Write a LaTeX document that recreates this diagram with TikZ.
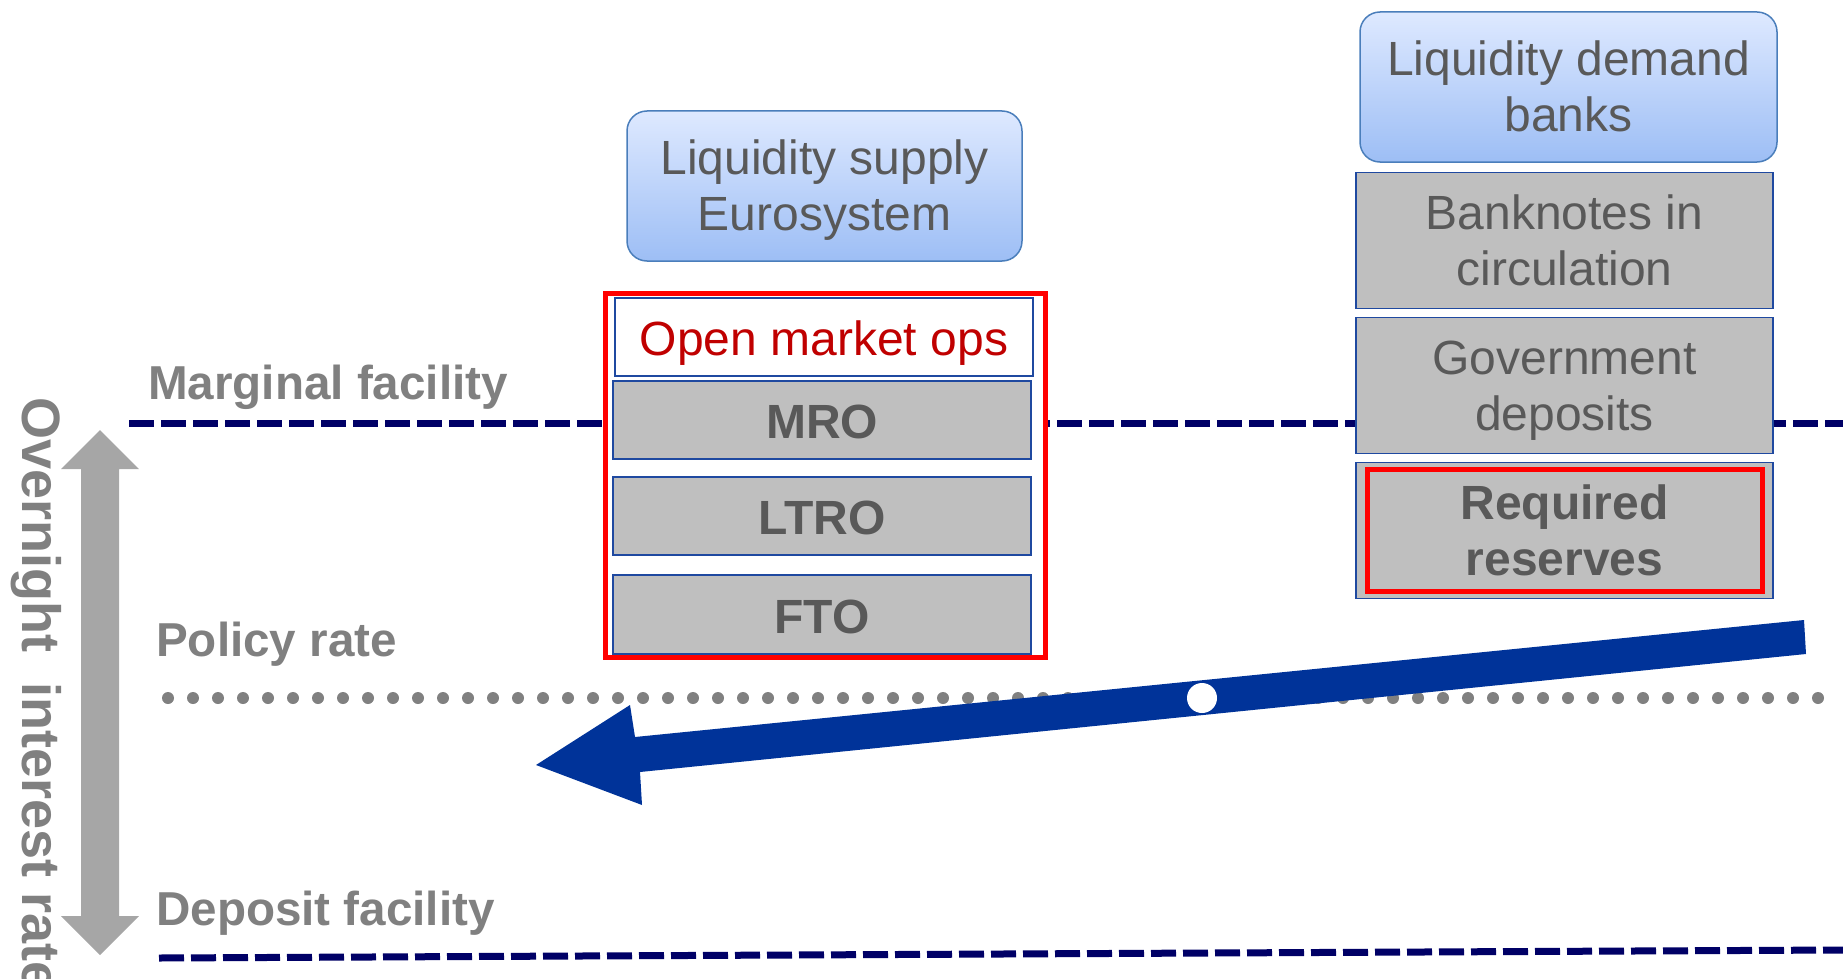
\documentclass[tikz,border=0pt]{standalone}
\usepackage{fontspec}
\setmainfont{Liberation Sans}
\definecolor{navyline}{RGB}{0,0,102}
\definecolor{labelgrey}{RGB}{128,128,128}
\definecolor{textgrey}{RGB}{89,89,89}
\definecolor{boxgrey}{RGB}{191,191,191}
\definecolor{boxblue}{RGB}{31,73,160}
\definecolor{headblue}{RGB}{74,126,187}
\definecolor{headtop}{RGB}{222,233,255}
\definecolor{headbottom}{RGB}{157,190,245}
\definecolor{arrowblue}{RGB}{0,51,153}
\definecolor{omored}{RGB}{192,0,0}
\definecolor{rangegrey}{RGB}{166,166,166}
\newcommand{\linetop}{\rule{0pt}{44pt}}
\newcommand{\linebottom}{\rule[-11pt]{0pt}{11pt}}

\begin{document}
\begin{tikzpicture}[x=1pt, y=-1pt,
        boxfont/.style={font=\fontsize{48}{56}\selectfont},
        ratelabel/.style={anchor=base west, inner sep=0pt, text=labelgrey, font=\fontsize{47.6}{56}\selectfont\bfseries},
        headbox/.style={boxfont, draw=headblue, line width=1.5pt, rounded corners=20pt, top color=headtop, bottom color=headbottom, text=textgrey, align=center, inner sep=0pt},
        opbox/.style={boxfont, draw=boxblue, line width=1.5pt, fill=boxgrey, text=textgrey, minimum width=418pt, minimum height=78pt, inner sep=0pt, text height=37pt, text depth=0pt},
        needbox/.style={boxfont, draw=boxblue, line width=1.5pt, fill=boxgrey, text=textgrey, align=center, minimum width=417pt, minimum height=136pt, inner sep=0pt},
        redframe/.style={draw=red, line width=5pt, inner sep=0pt},
        rateline/.style={navyline, line width=7pt, dash pattern=on 25pt off 7pt}
    ]
    \useasboundingbox (0,0) rectangle (1843,979);

    \draw[rateline] (129,423) -- (1843,423);
    \draw[rateline] (159,958) -- (1843,950);
    \draw[labelgrey, line width=12pt, line cap=round, dash pattern=on 0pt off 25pt] (168,698) -- (1822,698);

    \node[ratelabel] (marginal) at (148,399) {Marginal facility};
    \node[ratelabel] (policy) at (156,656) {Policy rate};
    \node[ratelabel] (deposit) at (156,925) {Deposit facility};

    \fill[rangegrey]
        (100,430) -- (139,469) -- (119,469) -- (119,916) -- (139,916)
        -- (100,955) -- (61,916) -- (81,916) -- (81,469) -- (61,469) -- cycle;
    \node[rotate=-90, anchor=base west, inner sep=0pt, text=labelgrey, font=\fontsize{54}{60}\selectfont\bfseries] (overnight) at (23,397) {Overnight\ \ interest rate};

    \node[headbox, minimum width=395pt, minimum height=150pt] (supply) at (824.5,186) {\linetop Liquidity supply\\Eurosystem\linebottom};
    \node[redframe, fill=white, minimum width=440pt, minimum height=364pt] (omoframe) at (825,475) {};
    \node[opbox, fill=white, text=omored] (omo) at (824,337) {Open market ops};
    \node[opbox, font=\fontsize{48}{56}\selectfont\bfseries] (mro) at (822,420) {MRO};
    \node[opbox, font=\fontsize{48}{56}\selectfont\bfseries] (ltro) at (822,516) {LTRO};
    \node[opbox, font=\fontsize{48}{56}\selectfont\bfseries, minimum height=79pt] (fto) at (822,614.5) {FTO};

    \node[headbox, minimum width=417pt, minimum height=150pt] (demand) at (1568.5,87) {\linetop Liquidity demand\\banks\linebottom};
    \node[needbox] (banknotes) at (1564.5,240.5) {\linetop Banknotes in\\circulation\linebottom};
    \node[needbox] (government) at (1564.5,385.5) {\linetop Government\\deposits\linebottom};
    \node[needbox, font=\fontsize{48}{56}\selectfont\bfseries] (required) at (1564.5,530.5) {\linetop Required\\reserves\linebottom};
    \node[redframe, minimum width=395pt, minimum height=122pt] (reqframe) at (1564.5,530) {};

    \fill[arrowblue]
        (1804,620) -- (635,737) -- (630,705) -- (536,765)
        -- (642,805) -- (640,772) -- (1806,654) -- cycle;
    \node[circle, fill=white, minimum size=30pt, inner sep=0pt] (crossing) at (1202,698) {};
\end{tikzpicture}
\end{document}
